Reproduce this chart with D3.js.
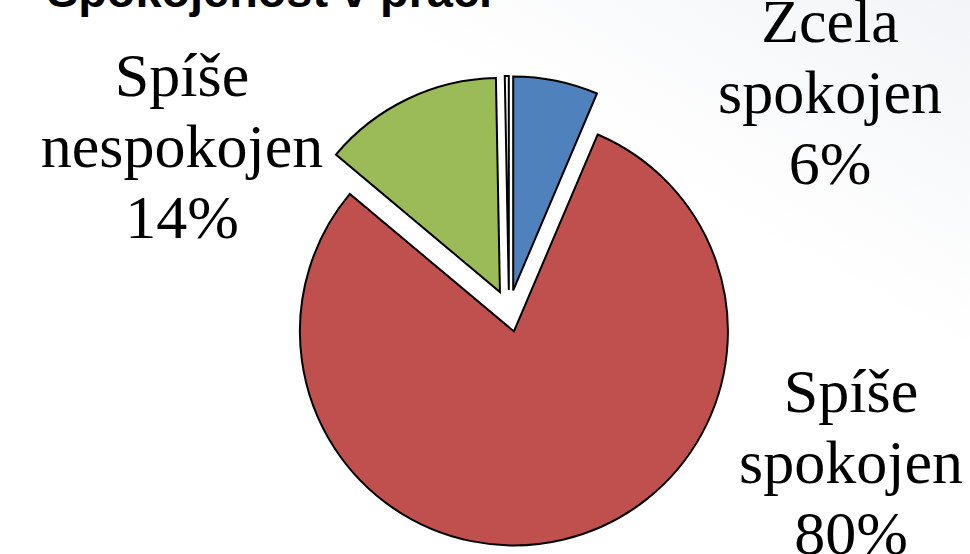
<!DOCTYPE html>
<html>
<head>
<meta charset="utf-8">
<script src="https://cdn.jsdelivr.net/npm/d3@7"></script>
<style>
  html, body { margin: 0; padding: 0; background: #fff; }
  svg { display: block; }
  .label { font-family: "Liberation Serif", "Times New Roman", serif; font-size: 62px; fill: #000; }
  .title { font-family: "Liberation Sans", Arial, sans-serif; font-weight: bold; font-size: 46px; fill: #000; }
</style>
</head>
<body>
<div id="chart"></div>
<script>
const categories = ["Zcela spokojen", "Spíše spokojen", "Spíše nespokojen", "Zcela nespokojen"];
const values = [6.4, 79.7, 13.6, 0.3];
const colors = ["#4f81bd", "#c0504d", "#9bbb59", "#ffffff"];

// label lines per slice (null = no label shown)
const labelLines = [
  ["Zcela", "spokojen"],
  ["Spíše", "spokojen"],
  ["Spíše", "nespokojen"],
  null
];
// label block anchors: centre x and first baseline
const labelPos = [
  { x: 830, y: 42 },
  { x: 851, y: 412 },
  { x: 182, y: 96 }
];

const width = 970;
const height = 554;
const cx = 509, cy = 311;
const radius = 214;
const explode = 21;
const lineGap = 71;

const svg = d3.select("#chart")
  .append("svg")
  .attr("width", width)
  .attr("height", height);

const defs = svg.append("defs");
const grad = defs.append("linearGradient")
  .attr("id", "bg")
  .attr("x1", "0%").attr("y1", "100%")
  .attr("x2", "100%").attr("y2", "0%");
grad.append("stop").attr("offset", "68%").attr("stop-color", "#ffffff");
grad.append("stop").attr("offset", "100%").attr("stop-color", "#f2f4f7");

svg.append("rect")
  .attr("width", width)
  .attr("height", height)
  .attr("fill", "url(#bg)");

svg.append("text")
  .attr("class", "title")
  .attr("x", 47)
  .attr("y", 7)
  .attr("textLength", 445)
  .attr("lengthAdjust", "spacingAndGlyphs")
  .text("Spokojenost v práci");

const pie = d3.pie().sort(null).value(d => d);
const arcs = pie(values);
const arc = d3.arc().innerRadius(0).outerRadius(radius);

const g = svg.append("g")
  .attr("transform", `translate(${cx},${cy})`);

g.selectAll("path")
  .data(arcs)
  .enter()
  .append("path")
  .attr("transform", d => {
    const mid = (d.startAngle + d.endAngle) / 2;
    return `translate(${Math.sin(mid) * explode},${-Math.cos(mid) * explode})`;
  })
  .attr("d", arc)
  .attr("fill", (d, i) => colors[i])
  .attr("stroke", "#000")
  .attr("stroke-width", 2)
  .attr("stroke-linejoin", "miter");

const total = d3.sum(values);
const pct = d3.format(".0%");

arcs.forEach((d, i) => {
  if (!labelLines[i]) return;
  const lines = labelLines[i].concat(pct(d.value / total));
  const t = svg.append("text")
    .attr("class", "label")
    .attr("text-anchor", "middle");
  lines.forEach((line, j) => {
    t.append("tspan")
      .attr("x", labelPos[i].x)
      .attr("y", labelPos[i].y + j * lineGap)
      .text(line);
  });
});
</script>
</body>
</html>
